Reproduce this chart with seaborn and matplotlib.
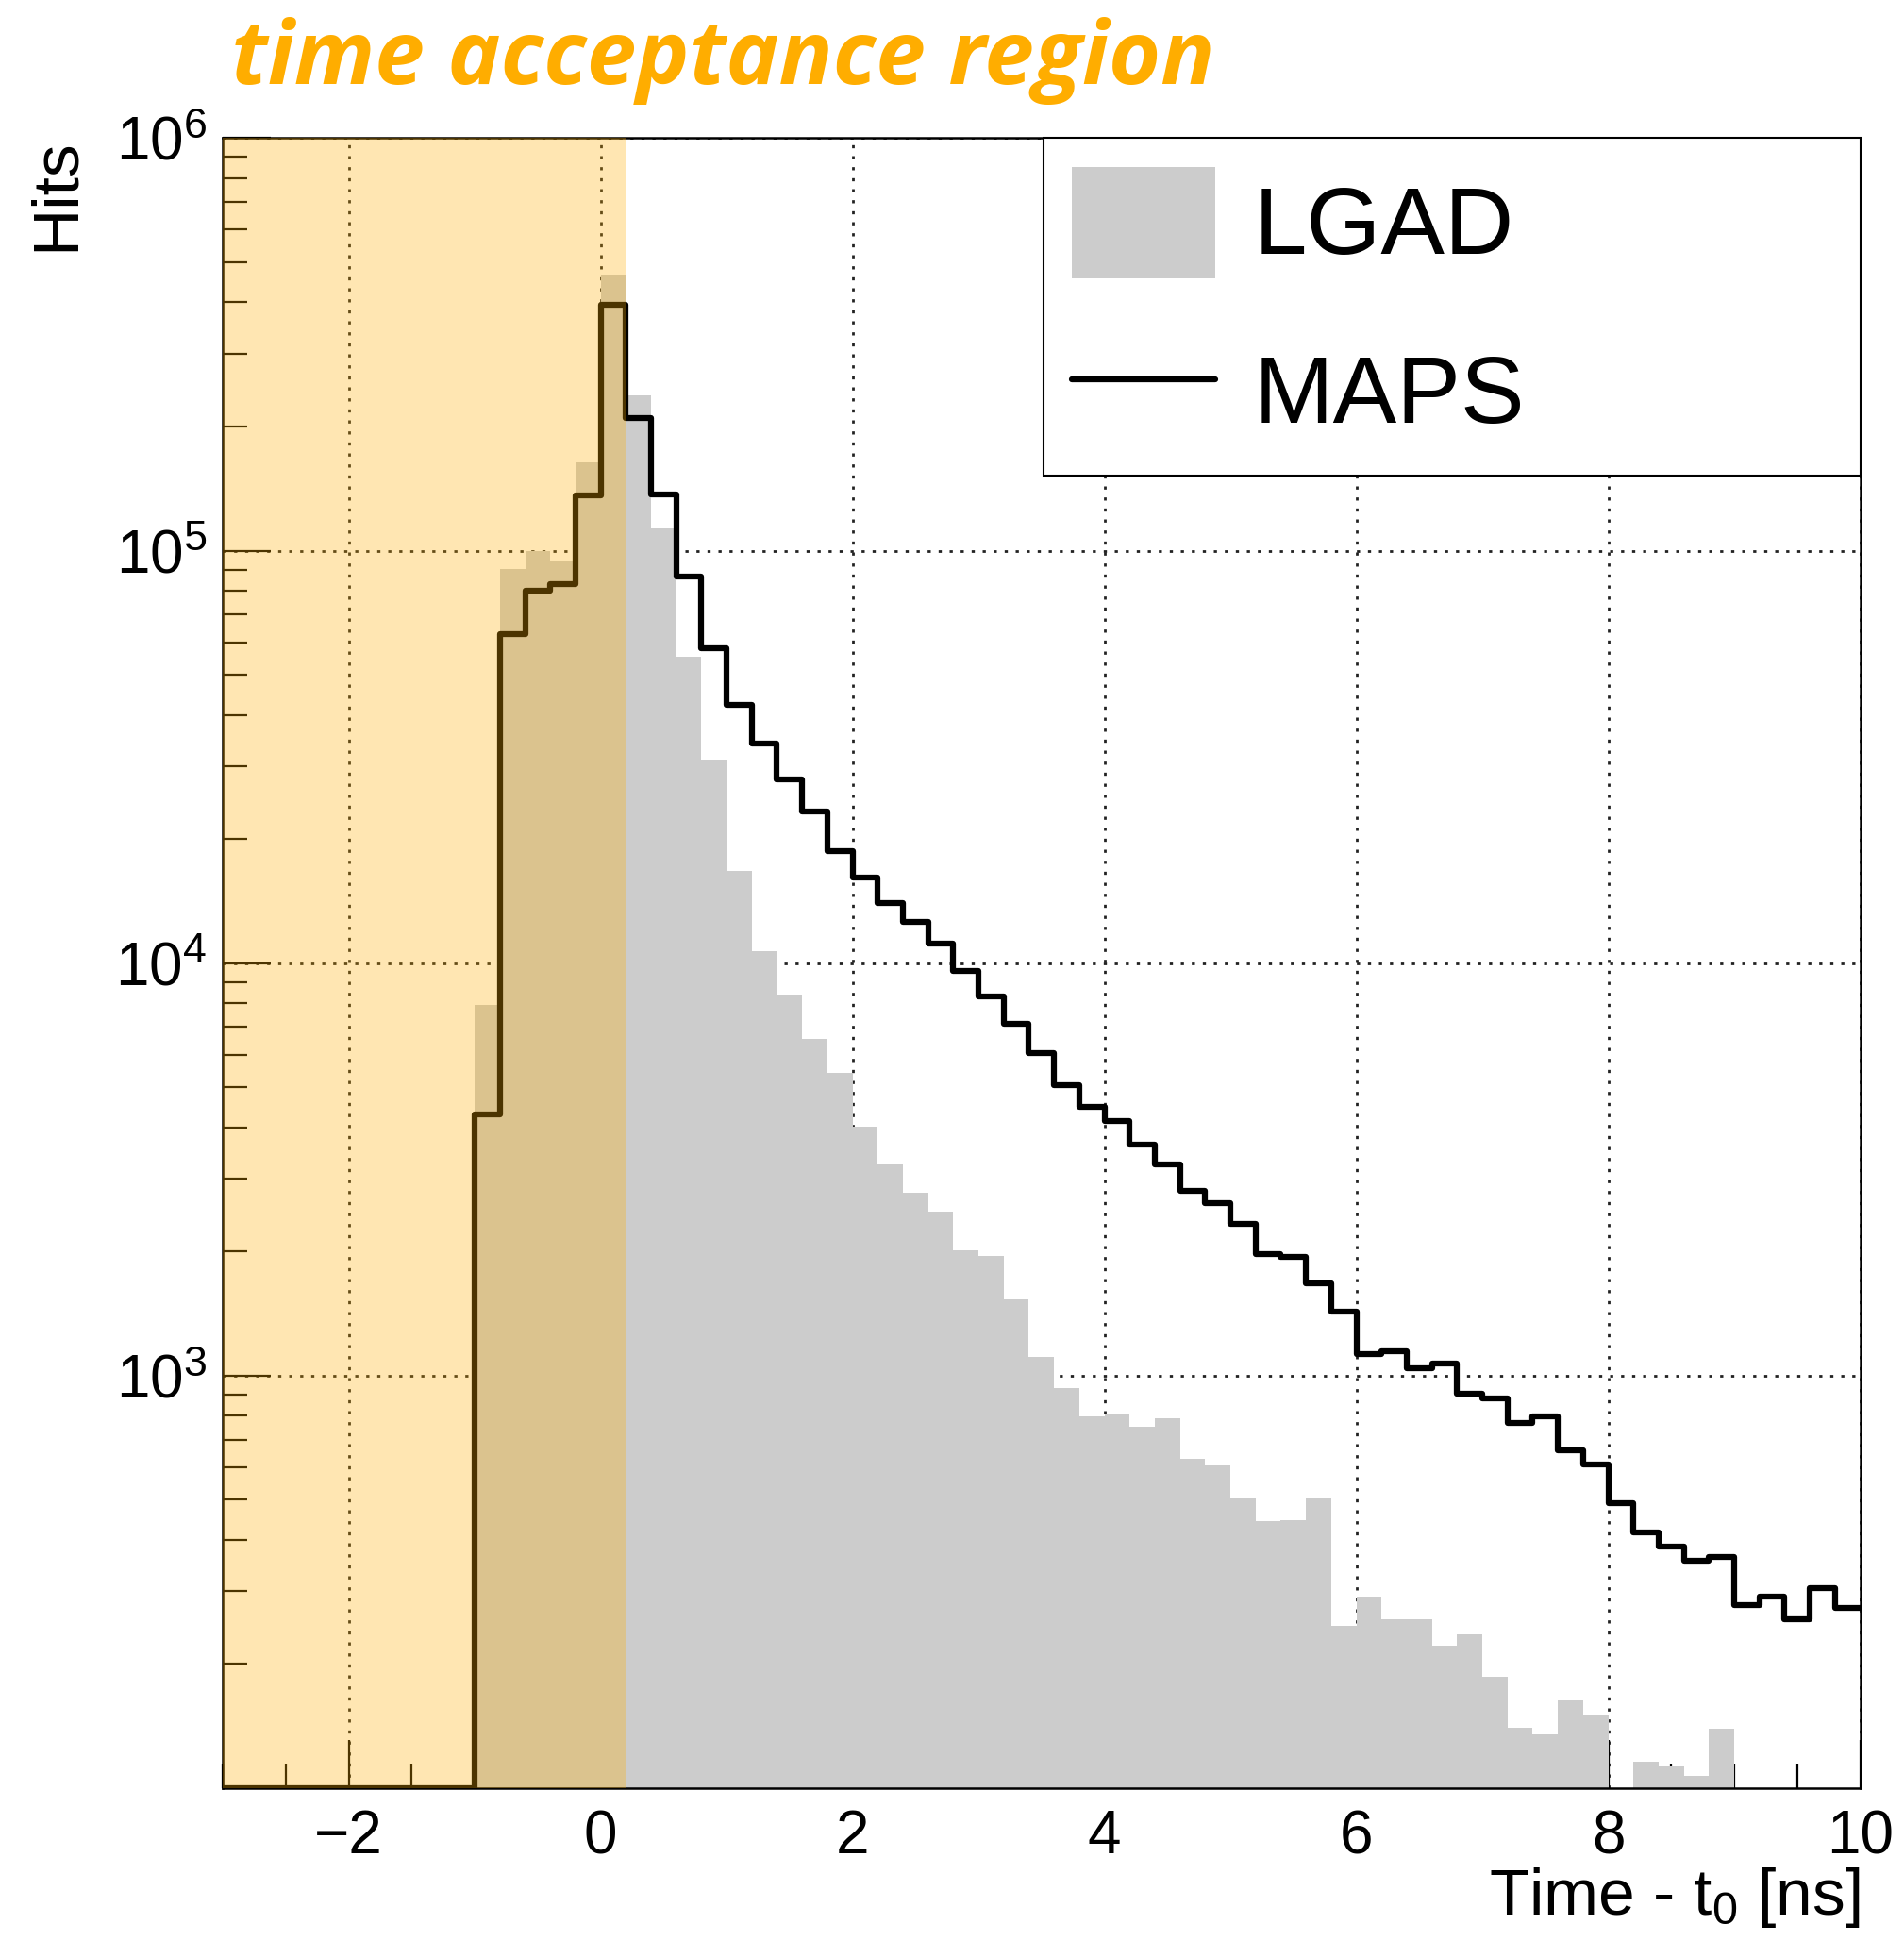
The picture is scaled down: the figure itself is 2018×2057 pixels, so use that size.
import numpy as np
import pandas as pd
import matplotlib
matplotlib.use("Agg")
import matplotlib.pyplot as plt
import seaborn as sns
from matplotlib.patches import Patch
from matplotlib.lines import Line2D
from matplotlib.ticker import FixedLocator, MultipleLocator, NullFormatter

# Data: hits per 0.2 ns bin, bins from -3 ns to 10 ns (65 bins)
bin_width = 0.2
t_min = -3.0
t_max = 10.0
y_min = 100
y_max = 1e6

lgad_hits = [0] * 10 + [
    7900, 90400, 100000, 94000, 164000, 468000, 238000, 113000, 55300, 31200,
    16700, 10700, 8400, 6540, 5430, 4010, 3250, 2780, 2500, 2010,
    1950, 1530, 1110, 935, 798, 804, 752, 789, 630, 605,
    504, 445, 446, 505, 247, 291, 256, 256, 221, 236,
    186, 140, 135, 163, 151, 0, 116, 113, 107, 139,
    0, 0, 0, 0, 0]

maps_hits = [0] * 10 + [
    4300, 62600, 79800, 83000, 136000, 394000, 210000, 137000, 86700, 58000,
    42300, 34100, 27900, 23300, 18700, 16100, 14000, 12560, 11140, 9570,
    8320, 7140, 6050, 5070, 4490, 4140, 3630, 3250, 2800, 2620,
    2330, 1970, 1940, 1670, 1430, 1125, 1143, 1040, 1069, 904,
    881, 769, 796, 658, 610, 491, 416, 385, 356, 363,
    277, 291, 256, 306, 274]

acceptance_start = -3.0
acceptance_end = 0.2

edges = np.round(np.arange(t_min, t_max + bin_width / 2, bin_width), 1)
centers = edges[:-1] + bin_width / 2
df = pd.DataFrame({'time': centers, 'LGAD': lgad_hits, 'MAPS': maps_hits})
# empty bins of the outline are drawn on the frame floor, like ROOT does
df['MAPS_drawn'] = df['MAPS'].clip(lower=y_min)
bin_list = edges.tolist()

#Style
sns.set_style('white')
plt.rcParams['font.family'] = ['Liberation Sans', 'DejaVu Sans']
plt.rcParams['mathtext.fontset'] = 'custom'
plt.rcParams['mathtext.rm'] = 'Liberation Sans'
plt.rcParams['mathtext.it'] = 'Liberation Sans:italic'
plt.rcParams['axes.unicode_minus'] = True
for key in ['text.color', 'axes.labelcolor', 'xtick.color', 'ytick.color']:
    plt.rcParams[key] = 'black'

fig = plt.figure(figsize=(20.18, 20.57), dpi=100)
ax = fig.add_axes([0.117, 0.0788, 0.860, 0.850])

#Histograms
sns.histplot(data=df, x='time', weights='LGAD', bins=bin_list, element='step',
             fill=True, color='#cccccc', alpha=1, linewidth=0, ax=ax)
sns.histplot(data=df, x='time', weights='MAPS_drawn', bins=bin_list,
             element='step', fill=False, color='black', linewidth=4.5, ax=ax)

ax.set_yscale('log')
ax.set_xlim(t_min, t_max)
ax.set_ylim(y_min, y_max)

#Time acceptance region overlay
ax.axvspan(acceptance_start, acceptance_end, color='#ffaf00', alpha=0.3,
           lw=0, zorder=10)

#Ticks
ax.xaxis.set_major_locator(MultipleLocator(2))
ax.xaxis.set_minor_locator(MultipleLocator(0.5))
ax.yaxis.set_major_locator(FixedLocator([1e3, 1e4, 1e5, 1e6]))
minor_y = [m * 10.0 ** d for d in range(2, 6) for m in range(2, 10)]
ax.yaxis.set_minor_locator(FixedLocator(minor_y))
ax.yaxis.set_minor_formatter(NullFormatter())
ax.set_yticklabels([r'$10^{3}$', r'$10^{4}$', r'$10^{5}$', r'$10^{6}$'])
ax.tick_params(axis='both', which='major', direction='in', length=37,
               width=1.6, labelsize=46, bottom=True, left=True,
               top=False, right=False)
ax.tick_params(axis='both', which='minor', direction='in', length=19,
               width=1.6, bottom=True, left=True, top=False, right=False)
ax.tick_params(axis='x', which='major', pad=16)
ax.tick_params(axis='y', which='major', pad=12)

for s in ax.spines.values():
    s.set_linewidth(1.8)
    s.set_color('black')

ax.grid(True, which='major', linestyle=(0, (1.2, 3.0)), color='#222222',
        linewidth=2.0)

ax.set_xlabel(r'Time - t$_{0}$ [ns]', fontsize=50, loc='right', labelpad=0)
ax.set_ylabel('Hits', fontsize=50, loc='top', labelpad=22)

#Legend
handles = [Patch(facecolor='#cccccc', edgecolor='none'),
           Line2D([], [], color='black', lw=4.5)]
leg = ax.legend(handles, ['LGAD', 'MAPS'], loc='upper left',
                bbox_to_anchor=(0.501, 1.0, 0.499, 0.0), mode='expand',
                borderaxespad=0, fontsize=73, handlelength=1.5,
                handleheight=1.41, labelspacing=0.6, borderpad=0.3,
                handletextpad=0.4, fancybox=False, framealpha=1,
                edgecolor='black')
leg.get_frame().set_linewidth(1.5)
leg.set_zorder(20)

#Title
fig.text(245 / 2018, 1 - 89 / 2057, 'time acceptance region',
         fontfamily='Open Sans', fontweight='bold', fontstyle='italic',
         color='#ffad00', fontsize=68, va='baseline', ha='left')

fig.savefig('out.png', dpi=100)
